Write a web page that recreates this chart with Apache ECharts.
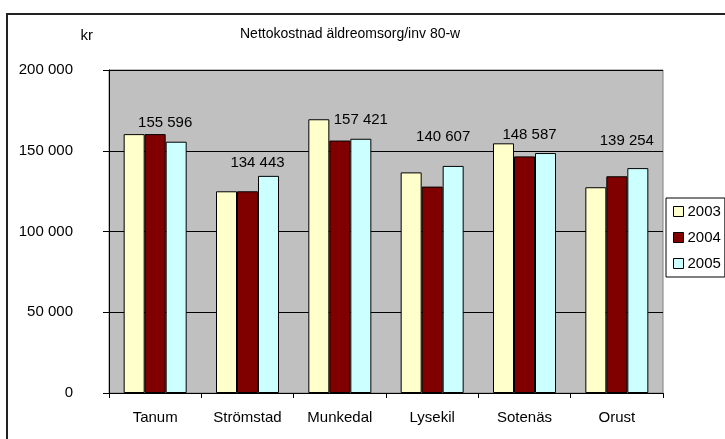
<!DOCTYPE html>
<html>
<head>
<meta charset="utf-8">
<script src="https://cdn.jsdelivr.net/npm/echarts@6/dist/echarts.min.js"></script>
<style>
  html, body { margin: 0; padding: 0; background: #fff; }
  #chart { width: 725px; height: 439px; }
</style>
</head>
<body>
<div id="chart"></div>
<script>
const categories = ['Tanum', 'Strömstad', 'Munkedal', 'Lysekil', 'Sotenäs', 'Orust']
const years = ['2003', '2004', '2005']
const values2003 = [160300, 124900, 169500, 136600, 154600, 127400]
const values2004 = [160300, 124900, 156300, 127800, 146500, 134200]
const values2005 = [155596, 134443, 157421, 140607, 148587, 139254]
const yTicks = [0, 50000, 100000, 150000, 200000]

// hand-placed label offsets, like in the original sheet
const labelOffsets = [[-11, -11], [-11, -6], [0, -11], [-10, -22], [-16, -11], [-11, -20]]

const font = 'Arial, "Liberation Sans", sans-serif'
const fmt = (v) => String(v).replace(/\B(?=(\d{3})+(?!\d))/g, ' ')

const chart = echarts.init(document.getElementById('chart'))

function barSeries(name, data, color) {
  return {
    name,
    type: 'bar',
    data,
    barWidth: 21,
    barGap: '0%',
    itemStyle: { color, borderColor: '#000', borderWidth: 1 },
  }
}

const s2005 = barSeries(years[2], values2005.map((v, i) => ({
  value: v,
  label: { offset: labelOffsets[i] },
})), '#ccffff')
s2005.label = {
  show: true,
  position: 'top',
  distance: 0,
  color: '#000',
  fontSize: 15,
  fontFamily: font,
  formatter: (p) => fmt(p.value),
}

chart.setOption({
  animation: false,
  backgroundColor: '#fff',
  textStyle: { fontFamily: font },
  graphic: [
    {
      type: 'rect',
      shape: { x: 7, y: 14, width: 800, height: 500 },
      style: { fill: 'none', stroke: '#222', lineWidth: 2 },
      silent: true,
    },
  ],
  title: {
    text: 'Nettokostnad äldreomsorg/inv 80-w',
    left: 240,
    top: 27,
    padding: 0,
    textStyle: { fontSize: 14, fontWeight: 'normal', color: '#000', fontFamily: font },
  },
  legend: {
    orient: 'vertical',
    left: 666,
    top: 198,
    padding: [6, 4, 6, 7],
    itemGap: 11,
    itemWidth: 10,
    itemHeight: 10,
    borderColor: '#000',
    borderWidth: 1,
    backgroundColor: '#fff',
    icon: 'rect',
    itemStyle: { borderColor: '#000', borderWidth: 1 },
    textStyle: { fontSize: 15, color: '#000', fontFamily: font, padding: [0, 0, 0, -1] },
    data: years,
  },
  grid: {
    left: 109,
    right: 62,
    top: 70,
    bottom: 46,
    show: true,
    backgroundColor: '#c0c0c0',
    borderColor: '#808080',
    borderWidth: 1,
  },
  xAxis: {
    type: 'category',
    data: categories,
    axisLine: { lineStyle: { color: '#000', width: 1 } },
    axisTick: { show: true, length: 5, lineStyle: { color: '#000' } },
    axisLabel: { color: '#000', fontSize: 15, margin: 17, fontFamily: font },
  },
  yAxis: {
    type: 'value',
    min: yTicks[0],
    max: yTicks[yTicks.length - 1],
    interval: yTicks[1] - yTicks[0],
    name: 'kr',
    nameLocation: 'end',
    nameGap: 27,
    nameTextStyle: { color: '#000', fontSize: 15, align: 'right', padding: [0, 16, 0, 0], fontFamily: font },
    axisLine: { show: true, lineStyle: { color: '#000', width: 1 } },
    axisTick: { show: true, length: 6, lineStyle: { color: '#000' } },
    axisLabel: { color: '#000', fontSize: 15, margin: 36, fontFamily: font, formatter: fmt },
    splitLine: { show: true, lineStyle: { color: '#000', width: 1 } },
  },
  series: [
    barSeries(years[0], values2003, '#ffffcc'),
    barSeries(years[1], values2004, '#800000'),
    s2005,
  ],
})
</script>
</body>
</html>
